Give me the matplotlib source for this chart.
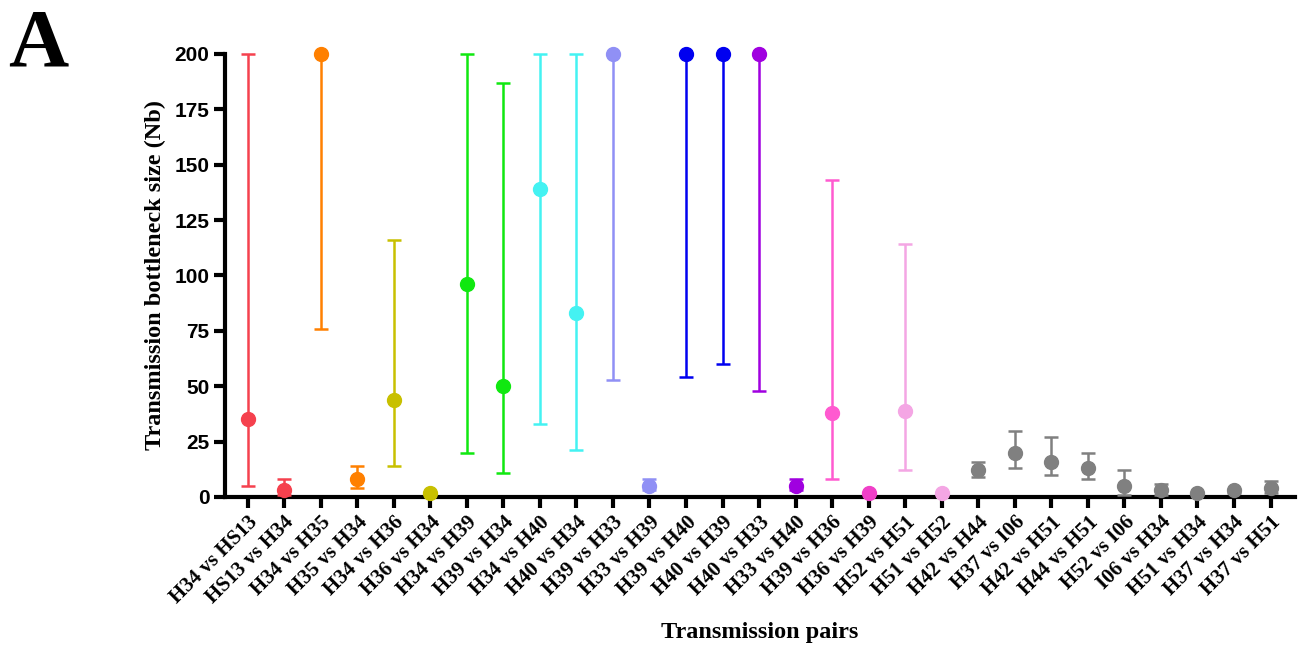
import matplotlib
matplotlib.use("Agg")
import matplotlib.pyplot as plt
import numpy as np

# transmission pairs
pairs = ["H34 vs HS13", "HS13 vs H34", "H34 vs H35", "H35 vs H34", "H34 vs H36",
         "H36 vs H34", "H34 vs H39", "H39 vs H34", "H34 vs H40", "H40 vs H34",
         "H39 vs H33", "H33 vs H39", "H39 vs H40", "H40 vs H39", "H40 vs H33",
         "H33 vs H40", "H39 vs H36", "H36 vs H39", "H52 vs H51", "H51 vs H52",
         "H42 vs H44", "H37 vs I06", "H42 vs H51", "H44 vs H51", "H52 vs I06",
         "I06 vs H34", "H51 vs H34", "H37 vs H34", "H37 vs H51"]
nb = [35, 3, 200, 8, 44, 2, 96, 50, 139, 83, 200, 5, 200, 200, 200, 5, 38, 2, 39, 2,
      12, 20, 16, 13, 5, 3, 2, 3, 4]
low = [5, 1, 76, 4, 14, 2, 20, 11, 33, 21, 53, 3, 54, 60, 48, 3, 8, 2, 12, 2,
       9, 13, 10, 8, 1, 1, 2, 2, 2]
high = [200, 8, 200, 14, 116, 2, 200, 187, 200, 200, 200, 8, 200, 200, 200, 8, 143, 2, 114, 2,
        16, 30, 27, 20, 12, 6, 2, 3, 7]
colors = ["#F5414E", "#F5414E", "#FF8000", "#FF8000", "#C8C000", "#C8C000",
          "#10E810", "#10E810", "#44F2F2", "#44F2F2", "#9090F5", "#9090F5",
          "#0000F0", "#0000F0", "#A000E0", "#A000E0", "#FF5AD0", "#F040C8",
          "#F4A6E4", "#F4A6E4"] + ["#808080"] * 9

fig = plt.figure(figsize=(12.98, 6.51), dpi=100)
ax = fig.add_axes([0.173, 0.2366, 0.825, 0.6805])

x = np.arange(len(pairs))
for i in range(len(pairs)):
    ax.errorbar(x[i], nb[i], yerr=[[nb[i] - low[i]], [high[i] - nb[i]]],
                fmt="o", color=colors[i], ms=10, elinewidth=1.8, capsize=5,
                capthick=1.8, clip_on=False, zorder=3)

ax.set_ylim(0, 200)
ax.set_xlim(-0.63, len(pairs) - 0.32)
ax.set_yticks(np.arange(0, 201, 25))
ax.set_xticks(x)
ax.set_xticklabels(pairs, rotation=45, ha="right", rotation_mode="anchor",
                   family="Liberation Serif", fontweight="bold", fontsize=15)
for lab in ax.get_yticklabels():
    lab.set_family("Liberation Sans")
    lab.set_fontweight("bold")
    lab.set_fontsize(15)

for s in ["top", "right"]:
    ax.spines[s].set_visible(False)
for s in ["left", "bottom"]:
    ax.spines[s].set_linewidth(3)
ax.tick_params(width=3, length=8, pad=3)

ax.set_ylabel("Transmission bottleneck size (Nb)", family="Liberation Serif",
              fontweight="bold", fontsize=17.5, labelpad=6)
fig.text(0.585, 0.02, "Transmission pairs", family="Liberation Serif",
         fontweight="bold", fontsize=17.5, ha="center")
fig.text(0.006, 0.9, "A", family="Liberation Serif", fontweight="bold", fontsize=60)

fig.savefig("out.png", dpi=100)
